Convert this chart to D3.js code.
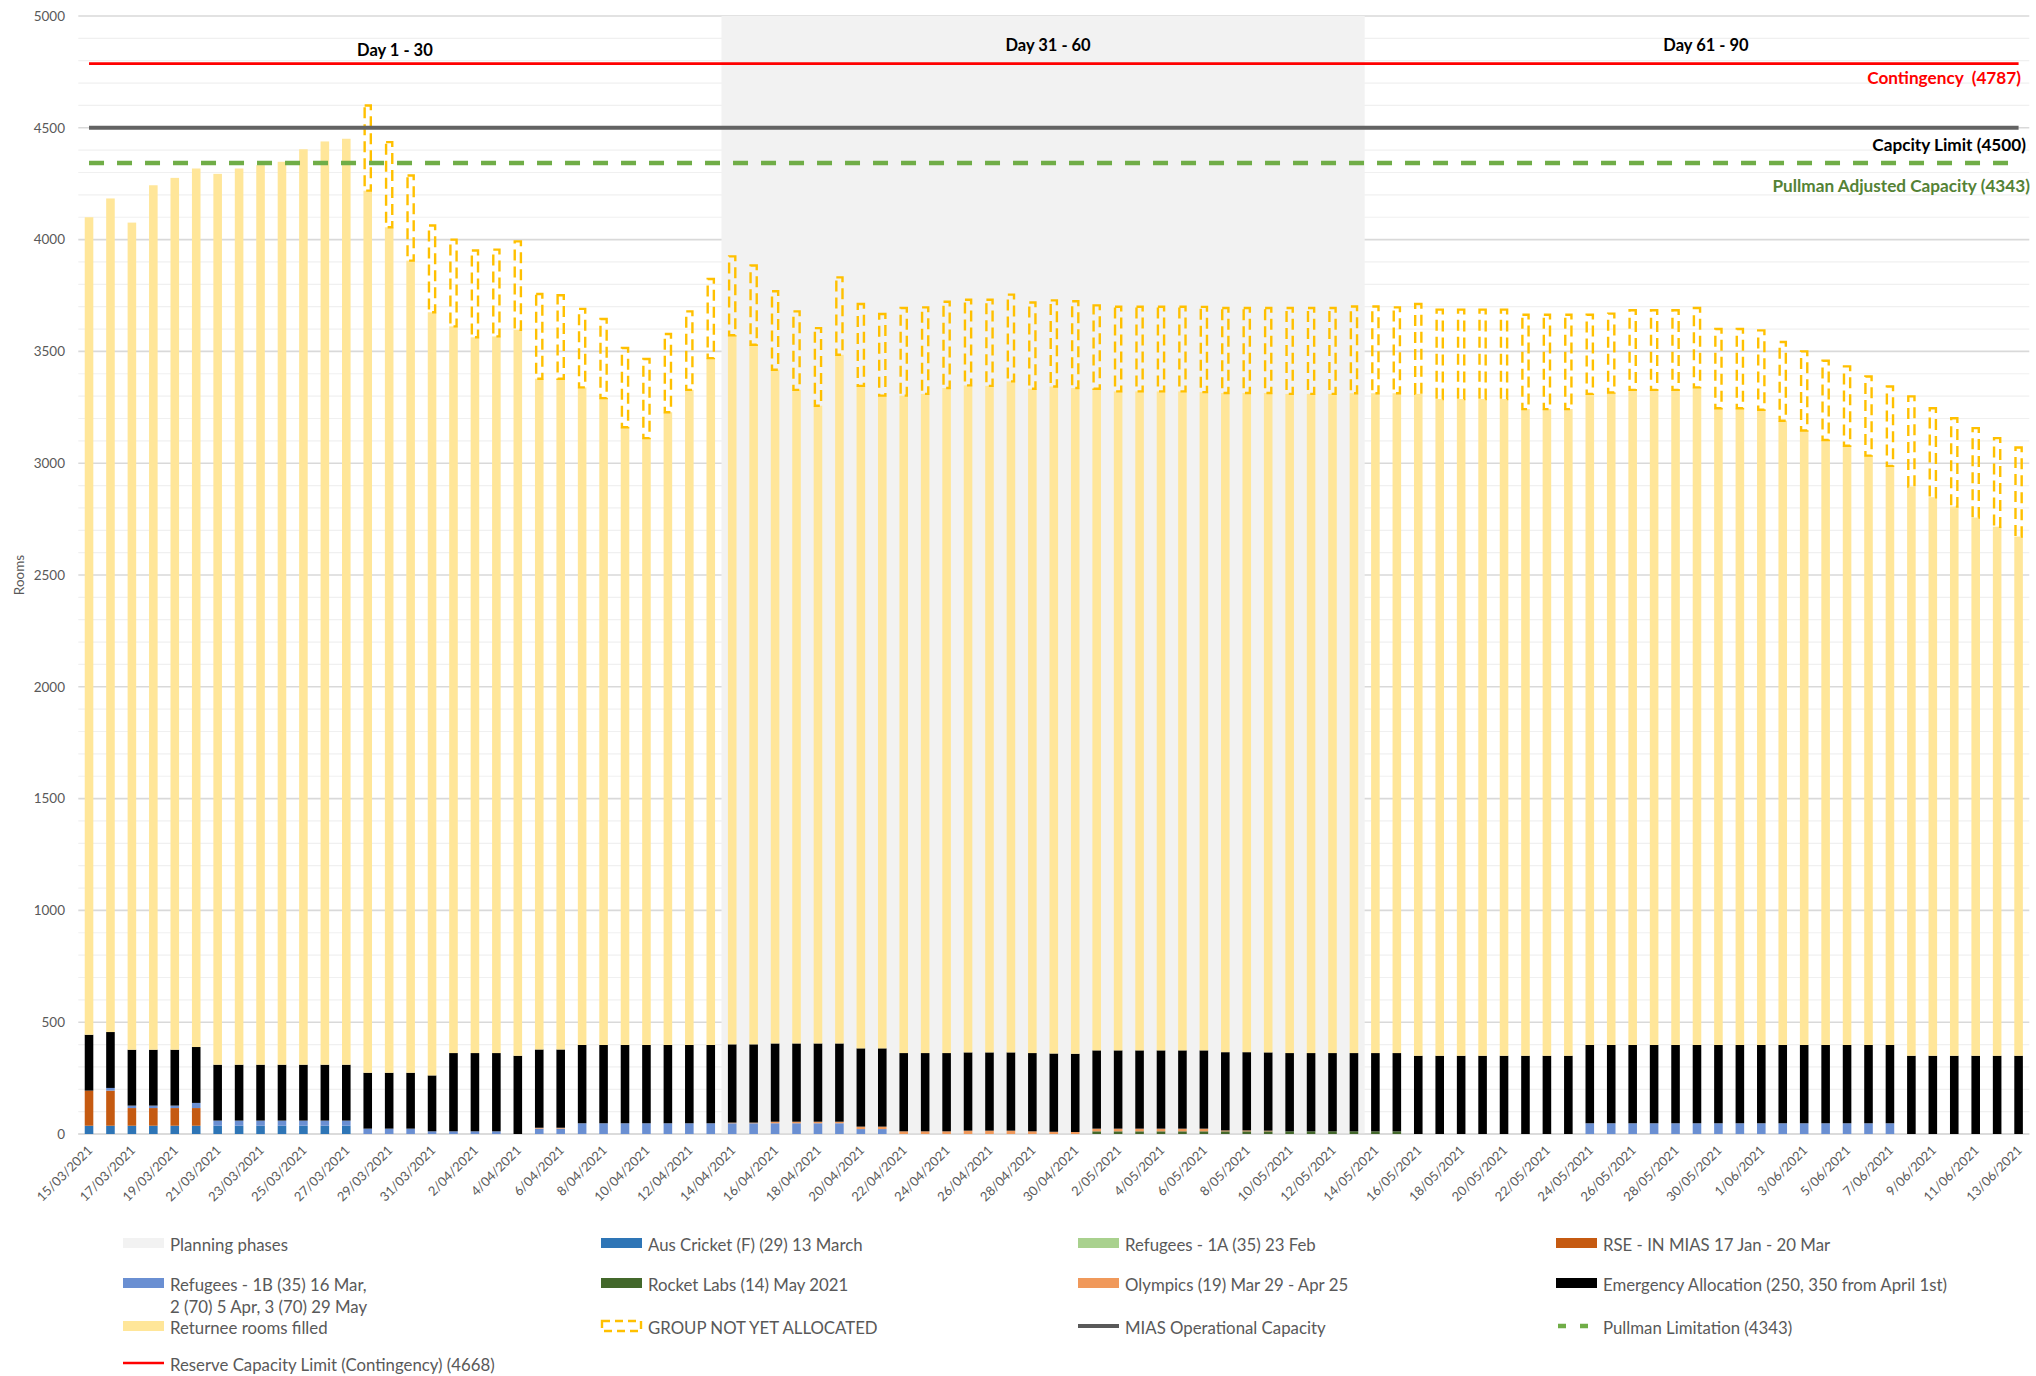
<!DOCTYPE html>
<html><head><meta charset="utf-8">
<script src="https://cdn.jsdelivr.net/npm/d3@7"></script>
<style>
body{margin:0;background:#fff}
svg{display:block}
text{font-family:Lato,"Open Sans",sans-serif}
</style>
</head><body>
<svg id="chart" width="2036" height="1376"></svg>
<script>
// ---------------- DATA ----------------
const dates = [
"15/03/2021","16/03/2021","17/03/2021","18/03/2021","19/03/2021","20/03/2021","21/03/2021","22/03/2021","23/03/2021","24/03/2021",
"25/03/2021","26/03/2021","27/03/2021","28/03/2021","29/03/2021","30/03/2021","31/03/2021","1/04/2021","2/04/2021","3/04/2021",
"4/04/2021","5/04/2021","6/04/2021","7/04/2021","8/04/2021","9/04/2021","10/04/2021","11/04/2021","12/04/2021","13/04/2021",
"14/04/2021","15/04/2021","16/04/2021","17/04/2021","18/04/2021","19/04/2021","20/04/2021","21/04/2021","22/04/2021","23/04/2021",
"24/04/2021","25/04/2021","26/04/2021","27/04/2021","28/04/2021","29/04/2021","30/04/2021","1/05/2021","2/05/2021","3/05/2021",
"4/05/2021","5/05/2021","6/05/2021","7/05/2021","8/05/2021","9/05/2021","10/05/2021","11/05/2021","12/05/2021","13/05/2021",
"14/05/2021","15/05/2021","16/05/2021","17/05/2021","18/05/2021","19/05/2021","20/05/2021","21/05/2021","22/05/2021","23/05/2021",
"24/05/2021","25/05/2021","26/05/2021","27/05/2021","28/05/2021","29/05/2021","30/05/2021","31/05/2021","1/06/2021","2/06/2021",
"3/06/2021","4/06/2021","5/06/2021","6/06/2021","7/06/2021","8/06/2021","9/06/2021","10/06/2021","11/06/2021","12/06/2021",
"13/06/2021"];

const ausCricket = [
37,37,37,37,37,37,37,37,37,37,
37,37,37,0,0,0,0,0,0,0,
0,0,0,0,0,0,0,0,0,0,
0,0,0,0,0,0,0,0,0,0,
0,0,0,0,0,0,0,0,0,0,
0,0,0,0,0,0,0,0,0,0,
0,0,0,0,0,0,0,0,0,0,
0,0,0,0,0,0,0,0,0,0,
0,0,0,0,0,0,0,0,0,0,
0];

const refugees1A = [
0,0,0,0,0,0,0,0,0,0,
0,0,0,0,0,0,0,0,0,0,
0,0,0,0,0,0,0,0,0,0,
0,0,0,0,0,0,0,0,0,0,
0,0,0,0,0,0,0,0,0,0,
0,0,0,0,0,0,0,0,0,0,
0,0,0,0,0,0,0,0,0,0,
0,0,0,0,0,0,0,0,0,0,
0,0,0,0,0,0,0,0,0,0,
0];

const rse = [
157,157,79,79,79,79,0,0,0,0,
0,0,0,0,0,0,0,0,0,0,
0,0,0,0,0,0,0,0,0,0,
0,0,0,0,0,0,0,0,0,0,
0,0,0,0,0,0,0,0,0,0,
0,0,0,0,0,0,0,0,0,0,
0,0,0,0,0,0,0,0,0,0,
0,0,0,0,0,0,0,0,0,0,
0,0,0,0,0,0,0,0,0,0,
0];

const refugees1B = [
0,12,11,11,11,23,23,23,23,23,
23,23,23,24,24,24,12,12,12,12,
0,24,24,48,48,48,48,48,48,48,
48,48,48,48,48,48,22,22,0,0,
0,0,0,0,0,0,0,0,0,0,
0,0,0,0,0,0,0,0,0,0,
0,0,0,0,0,0,0,0,0,0,
48,48,48,48,48,48,48,48,48,48,
48,48,48,48,48,0,0,0,0,0,
0];

const rocketLabs = [
0,0,0,0,0,0,0,0,0,0,
0,0,0,0,0,0,0,0,0,0,
0,0,0,0,0,0,0,0,0,0,
0,0,0,0,0,0,0,0,0,0,
0,0,0,0,0,0,0,12,12,12,
12,12,12,12,12,12,12,12,12,12,
12,12,0,0,0,0,0,0,0,0,
0,0,0,0,0,0,0,0,0,0,
0,0,0,0,0,0,0,0,0,0,
0];

const olympics = [
0,0,0,0,0,0,0,0,0,0,
0,0,0,0,0,0,0,0,0,0,
0,4,4,0,0,0,0,0,0,0,
3,3,7,7,7,7,11,11,12,12,
12,15,15,15,12,10,9,12,12,12,
12,12,12,4,4,3,0,0,0,0,
0,0,0,0,0,0,0,0,0,0,
0,0,0,0,0,0,0,0,0,0,
0,0,0,0,0,0,0,0,0,0,
0];

const emergency = [
250,250,250,250,250,250,250,250,250,250,
250,250,250,250,250,250,250,350,350,350,
350,350,350,350,350,350,350,350,350,350,
350,350,350,350,350,350,350,350,350,350,
350,350,350,350,350,350,350,350,350,350,
350,350,350,350,350,350,350,350,350,350,
350,350,350,350,350,350,350,350,350,350,
350,350,350,350,350,350,350,350,350,350,
350,350,350,350,350,350,350,350,350,350,
350];

const returnee = [
3656,3728,3699,3866,3899,3929,3984,4008,4023,4038,
4094,4129,4141,3945,3781,3632,3413,3250,3201,3205,
3247,3000,3000,2941,2893,2763,2714,2830,2930,3072,
3171,3129,3013,2923,2852,3080,2963,2919,2940,2948,
2974,2983,2981,3001,2971,2983,2977,2959,2947,2947,
2947,2947,2944,2948,2948,2949,2948,2948,2948,2951,
2951,2951,2960,2937,2937,2937,2937,2892,2892,2892,
2912,2918,2930,2930,2930,2941,2848,2848,2841,2792,
2748,2706,2680,2636,2590,2546,2498,2456,2407,2366,
2322];

const notAllocated = [
0,0,0,0,0,0,0,0,0,0,
0,0,0,381,381,381,388,388,388,388,
395,379,373,351,354,354,354,350,351,354,
353,354,351,351,347,346,366,365,392,387,
386,383,385,388,386,385,388,373,379,379,
379,379,381,380,380,380,384,384,384,388,
388,384,402,400,400,400,400,422,422,422,
354,353,356,356,356,355,354,354,355,352,
354,354,355,354,355,403,398,395,400,396,
398];

const yTicks = [0,500,1000,1500,2000,2500,3000,3500,4000,4500,5000];
const phaseLabels = ["Day 1 - 30","Day 31 - 60","Day 61 - 90"];
const phaseStarts = ["15/03/2021","14/04/2021","14/05/2021"];
const phaseEnds = ["13/04/2021","13/05/2021","13/06/2021"];
const phaseLabelValues = [4845,4868,4868];
const planningStart = "14/04/2021";
const planningEnd = "13/05/2021";
const planningValue = 5000;

const contingency = 4787;
const capacityLimit = 4500;
const pullmanLimit = 4343;
const refLineLabels = ["Contingency\u00A0\u00A0(4787)","Capcity Limit (4500)","Pullman Adjusted Capacity (4343)"];

const legendLabels = [
 ["Planning phases"],
 ["Aus Cricket (F) (29) 13 March"],
 ["Refugees - 1A (35) 23 Feb"],
 ["RSE - IN MIAS 17 Jan - 20 Mar"],
 ["Refugees - 1B (35) 16 Mar,","2 (70) 5 Apr, 3 (70) 29 May"],
 ["Rocket Labs (14) May 2021"],
 ["Olympics (19) Mar 29 - Apr 25"],
 ["Emergency Allocation (250, 350 from April 1st)"],
 ["Returnee rooms filled"],
 ["GROUP NOT YET ALLOCATED"],
 ["MIAS Operational Capacity"],
 ["Pullman Limitation (4343)"],
 ["Reserve Capacity Limit (Contingency) (4668)"]
];

// ---------------- STYLE ----------------
const keys = ["ausCricket","refugees1A","rse","refugees1B","rocketLabs","olympics","emergency","returnee","notAllocated"];
const colors = {
  ausCricket:"#2E75B6", refugees1A:"#A9D18E", rse:"#C55A11", refugees1B:"#6A8FD2",
  rocketLabs:"#43682B", olympics:"#F0995B", emergency:"#000000", returnee:"#FFE699",
  notAllocated:"#FFC000"
};
const grey = "#595959";

// ---------------- CHART ----------------
const svg = d3.select("#chart");
const pLeft = 78.3, pRight = 2029.3, pTop = 16, pBottom = 1134;
const x = d3.scaleBand().domain(dates).range([pLeft, pRight]).paddingInner(0.6).paddingOuter(0.3);
const y = d3.scaleLinear().domain([0, 5000]).range([pBottom, pTop]);
const bw = x.bandwidth(), step = x.step();
const cx = d => x(d) + bw / 2;
const bandLeft = d => x(d) - (step - bw) / 2;

// gridlines
svg.append("g").selectAll("line").data(d3.range(0, 5001, 100)).join("line")
  .attr("x1", pLeft).attr("x2", pRight)
  .attr("y1", d => y(d)).attr("y2", d => y(d))
  .attr("stroke", d => d % 500 === 0 ? "#D9D9D9" : "#F0F0F0")
  .attr("stroke-width", d => d % 500 === 0 ? 1.6 : 1.2);

// planning band
svg.append("rect")
  .attr("x", bandLeft(planningStart))
  .attr("width", bandLeft(planningEnd) + step - bandLeft(planningStart))
  .attr("y", y(planningValue))
  .attr("height", y(0) - y(planningValue))
  .attr("fill", "#F2F2F2");

// x axis line
svg.append("line").attr("x1", pLeft).attr("x2", pRight).attr("y1", y(0)).attr("y2", y(0))
  .attr("stroke", "#D9D9D9").attr("stroke-width", 1.6);

// stacked bars
const series = {ausCricket, refugees1A, rse, refugees1B, rocketLabs, olympics, emergency, returnee, notAllocated};
const table = dates.map((d, i) => {
  const row = {date: d};
  keys.forEach(k => row[k] = series[k][i]);
  return row;
});
const stacked = d3.stack().keys(keys)(table);

stacked.forEach(layer => {
  const k = layer.key;
  const g = svg.append("g");
  const pts = layer.filter(p => p[1] - p[0] > 0);
  if (k === "notAllocated") {
    g.selectAll("rect").data(pts).join("rect")
      .attr("x", p => x(p.data.date) + 1.2)
      .attr("width", bw - 2.4)
      .attr("y", p => y(p[1]))
      .attr("height", p => y(p[0]) - y(p[1]))
      .attr("fill", "none")
      .attr("stroke", colors[k])
      .attr("stroke-width", 2.4)
      .attr("stroke-dasharray", "11,6");
  } else {
    g.selectAll("rect").data(pts).join("rect")
      .attr("x", p => x(p.data.date))
      .attr("width", bw)
      .attr("y", p => y(p[1]))
      .attr("height", p => y(p[0]) - y(p[1]))
      .attr("fill", colors[k]);
  }
});

// reference lines
const refLine = v => d3.line().x(d => cx(d)).y(() => y(v))([dates[0], dates[dates.length - 1]]);
svg.append("path").attr("d", refLine(contingency)).attr("stroke", "#FF0000").attr("stroke-width", 2.6).attr("fill", "none");
svg.append("path").attr("d", refLine(capacityLimit)).attr("stroke", "#636363").attr("stroke-width", 4).attr("fill", "none");
svg.append("path").attr("d", refLine(pullmanLimit)).attr("stroke", "#70AD47").attr("stroke-width", 4.5)
  .attr("stroke-dasharray", "15,13").attr("fill", "none");

// reference line labels
const refVals = [contingency, capacityLimit, pullmanLimit];
const refColors = ["#FF0000", "#000000", "#548235"];
const refOffsets = [20, 23, 29];
const refRight = [2021, 2026, 2030];
refLineLabels.forEach((t, i) => {
  svg.append("text").attr("x", refRight[i]).attr("y", y(refVals[i]) + refOffsets[i])
    .attr("text-anchor", "end").attr("font-size", 17.2).attr("font-weight", 700)
    .attr("fill", refColors[i]).text(t);
});

// phase labels
const phaseShift = [-5, 5, 9];
phaseLabels.forEach((t, i) => {
  const x0 = bandLeft(phaseStarts[i]), x1 = bandLeft(phaseEnds[i]) + step;
  svg.append("text").attr("x", (x0 + x1) / 2 + phaseShift[i]).attr("y", y(phaseLabelValues[i]))
    .attr("dy", "0.35em").attr("text-anchor", "middle")
    .attr("font-size", 16.5).attr("font-weight", 700).attr("fill", "#000").text(t);
});

// y axis labels
svg.append("g").selectAll("text").data(yTicks).join("text")
  .attr("x", 65).attr("y", d => y(d)).attr("dy", "0.35em")
  .attr("text-anchor", "end").attr("font-size", 13.5).attr("fill", grey).text(d => d);

svg.append("text").attr("transform", `translate(24,${(pTop + pBottom) / 2}) rotate(-90)`)
  .attr("text-anchor", "middle").attr("font-size", 13.5).attr("fill", grey).text("Rooms");

// x axis labels (every other day)
svg.append("g").selectAll("text").data(dates.filter((d, i) => i % 2 === 0)).join("text")
  .attr("transform", d => `translate(${cx(d) + 1},${y(0) + 14}) rotate(-45)`)
  .attr("dy", "0.35em").attr("text-anchor", "end")
  .attr("font-size", 13).attr("fill", grey).text(d => d);

// legend
const legCols = [123, 601, 1078, 1556];
const legRows = [1243, 1283, 1326, 1363];
const legKinds = ["plan","ausCricket","refugees1A","rse","refugees1B","rocketLabs","olympics","emergency","returnee","notAllocated","mias","pullman","reserve"];
const lg = svg.append("g");
legendLabels.forEach((lines, i) => {
  const lx = legCols[i % 4], ly = legRows[Math.floor(i / 4)];
  const kind = legKinds[i];
  const sw = 41;
  if (kind === "plan") {
    lg.append("rect").attr("x", lx).attr("y", ly - 5).attr("width", sw).attr("height", 10).attr("fill", "#F2F2F2");
  } else if (kind === "notAllocated") {
    lg.append("rect").attr("x", lx + 1).attr("y", ly - 5).attr("width", sw - 2).attr("height", 10)
      .attr("fill", "none").attr("stroke", "#FFC000").attr("stroke-width", 2.4).attr("stroke-dasharray", "8,5");
  } else if (kind === "mias") {
    lg.append("line").attr("x1", lx).attr("x2", lx + sw).attr("y1", ly).attr("y2", ly).attr("stroke", "#595959").attr("stroke-width", 4);
  } else if (kind === "pullman") {
    lg.append("line").attr("x1", lx + 2).attr("x2", lx + sw).attr("y1", ly).attr("y2", ly).attr("stroke", "#70AD47")
      .attr("stroke-width", 4.5).attr("stroke-dasharray", "8,14");
  } else if (kind === "reserve") {
    lg.append("line").attr("x1", lx).attr("x2", lx + sw).attr("y1", ly).attr("y2", ly).attr("stroke", "#FF0000").attr("stroke-width", 2.6);
  } else {
    lg.append("rect").attr("x", lx).attr("y", ly - 5).attr("width", sw).attr("height", 10).attr("fill", colors[kind]);
  }
  const t = lg.append("text").attr("x", lx + 47).attr("y", ly + 2)
    .attr("font-size", 16.8).attr("fill", grey);
  lines.forEach((s, j) => {
    t.append("tspan").attr("x", lx + 47).attr("dy", j === 0 ? "0.35em" : 22).text(s);
  });
});
</script>
</body></html>
